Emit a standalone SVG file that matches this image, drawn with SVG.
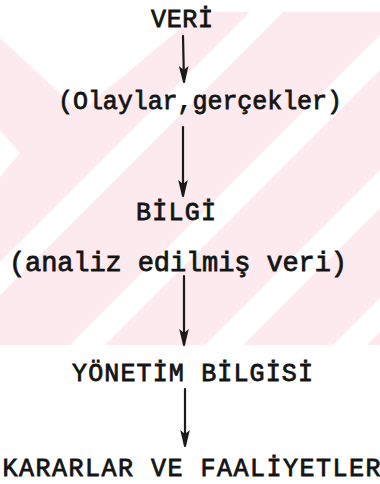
<svg xmlns="http://www.w3.org/2000/svg" width="380" height="484" viewBox="0 0 380 484">
  <style>
    .lbl { font-family: "Liberation Mono", "Courier New", monospace; font-size: 25px; fill: #141414; stroke: #141414; stroke-width: 0.8px; }
    .big { font-size: 27px; }
    .wire { stroke: #1a1a1a; stroke-width: 2.2; fill: none; stroke-linecap: round; }
    .wm { fill: #fdeaee; }
    .gap { fill: #ffffff; }
  </style>
  <defs>
    <!-- typed downward arrowhead, tip at the end of the line -->
    <marker id="tip" markerUnits="userSpaceOnUse" viewBox="-2 -6 18 12" markerWidth="18" markerHeight="12" refX="15" refY="0" orient="auto">
      <path d="M-1,-4.8 L3,0 L-1,4.8 L15,1 L15,-1 Z" fill="#1a1a1a"/>
    </marker>
    <clipPath id="band">
      <rect x="0" y="12" width="380" height="333"/>
    </clipPath>
  </defs>

  <rect width="380" height="484" fill="#ffffff"/>

  <!-- faint diagonal backdrop -->
  <g id="backdrop" clip-path="url(#band)">
    <rect class="wm" x="0" y="12" width="380" height="333"/>
    <polygon class="gap" points="0,12 200,12 80,112 0,38"/>
    <polygon class="gap" points="0,130 20,153 0,177"/>
    <polygon class="gap" points="0,262 262,0 295,0 0,295"/>
    <polygon class="gap" points="0,415 415,0 450,0 0,450"/>
    <polygon class="gap" points="0,550 550,0 588,0 0,588"/>
    <polygon class="gap" points="0,678 678,0 712,0 0,712"/>
  </g>

  <g id="connectors">
    <line class="wire" x1="183" y1="36" x2="184" y2="82" marker-end="url(#tip)"/>
    <line class="wire" x1="183" y1="127" x2="183" y2="196" marker-end="url(#tip)"/>
    <line class="wire" x1="184" y1="276" x2="184" y2="345" marker-end="url(#tip)"/>
    <line class="wire" x1="185" y1="389" x2="185" y2="446" marker-end="url(#tip)"/>
  </g>

  <g id="veri">
    <text class="lbl" x="151" y="27" textLength="62" lengthAdjust="spacing">VERİ</text>
  </g>
  <g id="olaylar">
    <text class="lbl" x="58" y="109" textLength="284" lengthAdjust="spacing">(Olaylar,gerçekler)</text>
  </g>
  <g id="bilgi">
    <text class="lbl" x="136" y="220" textLength="80" lengthAdjust="spacing">BİLGİ</text>
  </g>
  <g id="analiz">
    <text class="lbl big" x="9" y="271" textLength="338" lengthAdjust="spacing">(analiz edilmiş veri)</text>
  </g>
  <g id="yonetim">
    <text class="lbl" x="72" y="381" textLength="241" lengthAdjust="spacing">YÖNETİM BİLGİSİ</text>
  </g>
  <g id="kararlar">
    <text class="lbl" x="2.5" y="476" textLength="378" lengthAdjust="spacing">KARARLAR VE FAALİYETLER</text>
  </g>
</svg>
